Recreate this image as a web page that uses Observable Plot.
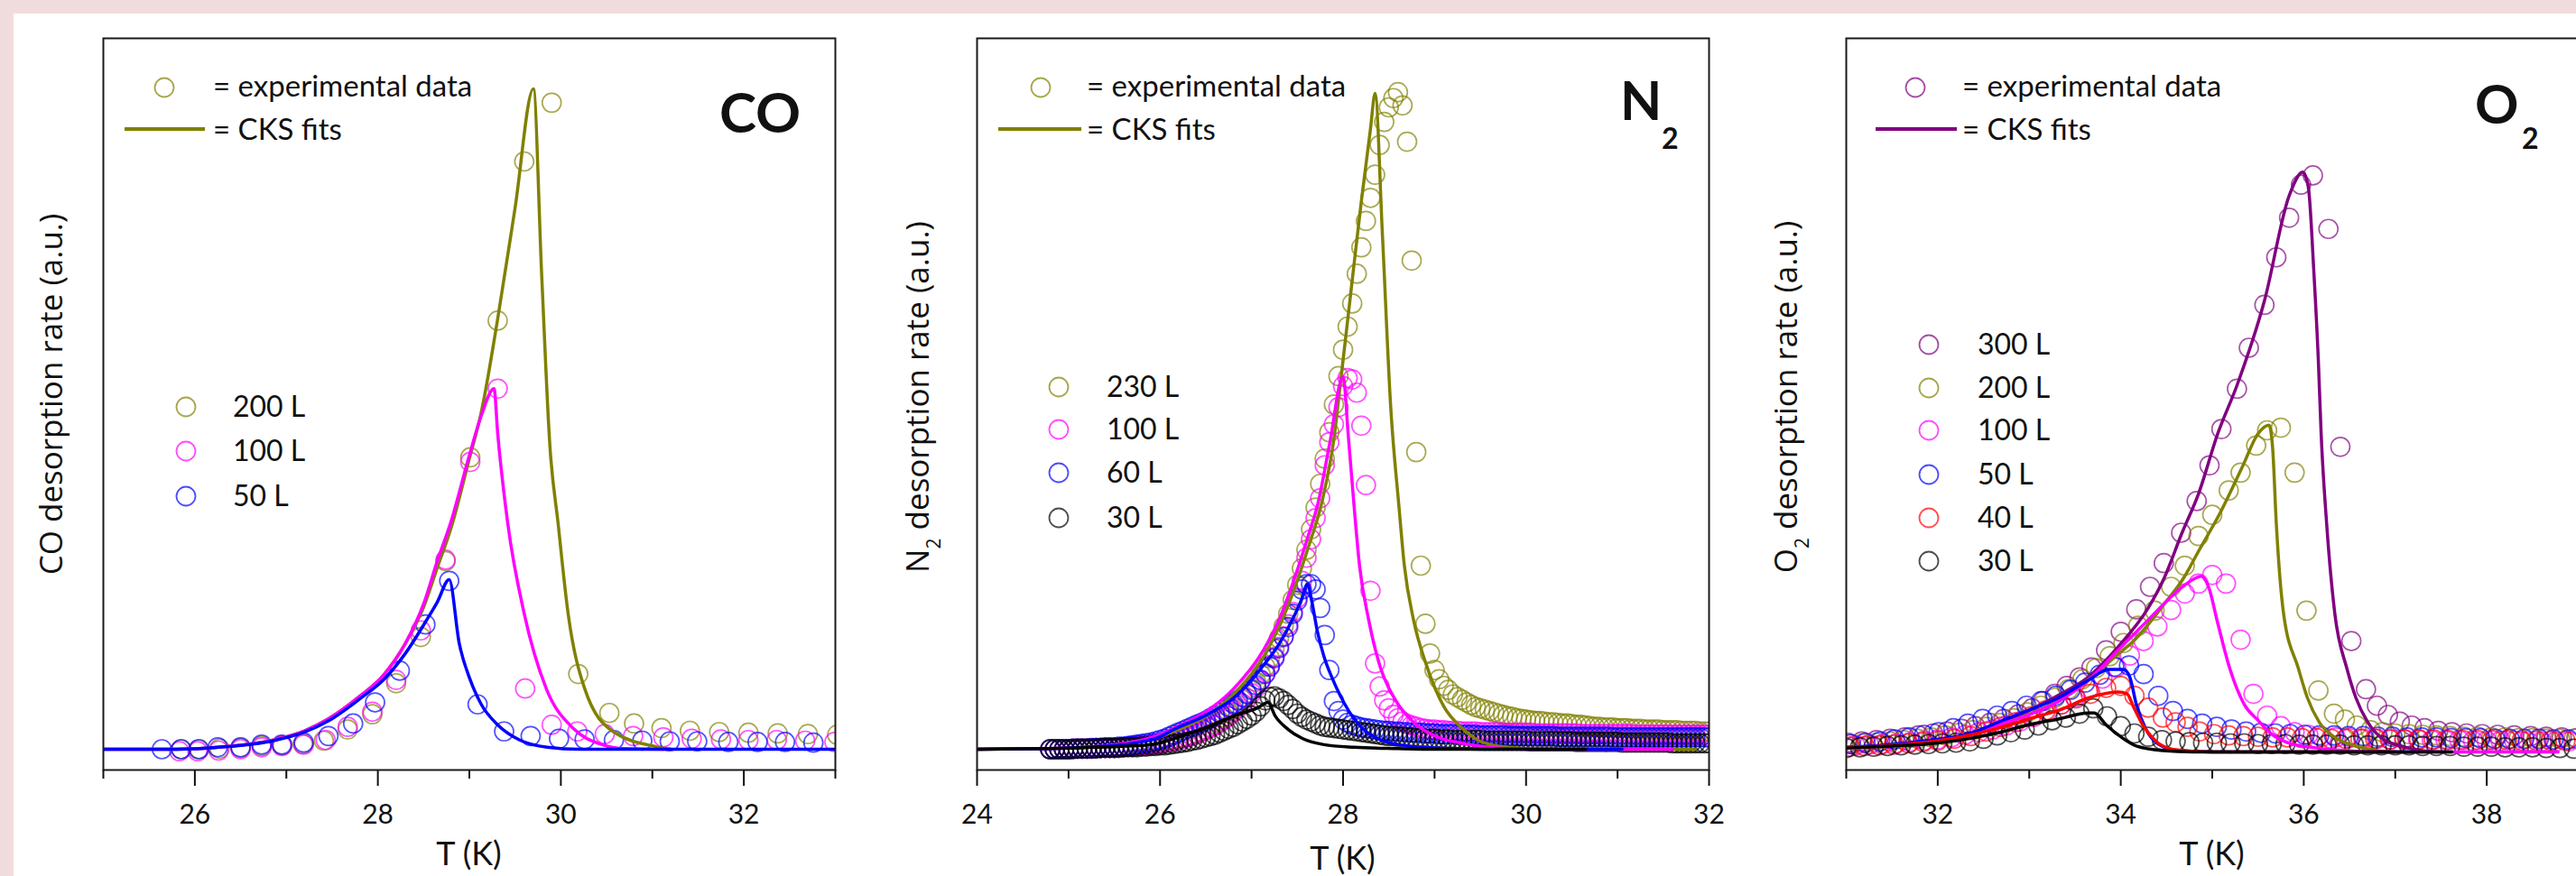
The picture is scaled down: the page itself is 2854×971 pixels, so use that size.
<!DOCTYPE html>
<html><head><meta charset="utf-8">
<script src="https://cdn.jsdelivr.net/npm/d3@7"></script>
<script src="https://cdn.jsdelivr.net/npm/@observablehq/plot@0.6"></script>
<style>
body{margin:0;background:#f0dcdc;}
#page{position:relative;width:2854px;height:971px;overflow:hidden;background:#f0dcdc;}
#white{position:absolute;left:15px;top:15px;width:2839px;height:956px;background:#fff;}
</style></head>
<body><div id="page"><div id="white"></div></div>
<script>
// ---------------- CO panel data ----------------
const co200c = [[25.85,0.000],[26.05,0.000],[26.27,0.001],[26.5,0.002],[26.73,0.005],[26.96,0.006],[27.18,0.008],[27.41,0.013],[27.67,0.030],[27.94,0.053],[28.2,0.100],[28.47,0.170],[28.74,0.285],[29.01,0.442],[29.31,0.649],[29.6,0.890],[29.9,0.979],[30.19,0.114],[30.53,0.055],[30.8,0.039],[31.1,0.032],[31.41,0.028],[31.73,0.026],[32.05,0.025],[32.37,0.024],[32.7,0.023],[33.02,0.022]];
const co100c = [[25.83,-0.003],[26.03,-0.003],[26.26,-0.002],[26.5,0.0],[26.73,0.003],[26.95,0.005],[27.19,0.007],[27.43,0.014],[27.67,0.034],[27.94,0.057],[28.2,0.105],[28.47,0.180],[28.74,0.287],[29.01,0.435],[29.31,0.546],[29.61,0.092],[29.9,0.037],[30.18,0.027],[30.48,0.023],[30.79,0.020],[31.12,0.018],[31.43,0.016],[31.75,0.015],[32.05,0.014],[32.36,0.014],[32.67,0.013],[32.99,0.011]];
const co50c = [[25.64,0.000],[25.85,0.000],[26.04,0.000],[26.25,0.003],[26.50,0.003],[26.73,0.007],[26.95,0.007],[27.19,0.010],[27.46,0.020],[27.73,0.039],[27.97,0.071],[28.24,0.119],[28.52,0.189],[28.78,0.255],[29.09,0.068],[29.38,0.027],[29.67,0.020],[29.98,0.016],[30.26,0.015],[30.58,0.014],[30.89,0.013],[31.19,0.012],[31.49,0.012],[31.83,0.011],[32.15,0.011],[32.45,0.011],[32.76,0.010]];
const co200l = [[25.0,0],[25.8,0.0],[26.26,0.003],[26.86,0.014],[27.2,0.028],[27.46,0.046],[27.8,0.08],[28.06,0.112],[28.3,0.16],[28.5,0.215],[28.65,0.275],[28.8,0.335],[29.0,0.44],[29.13,0.51],[29.31,0.652],[29.5,0.82],[29.7,1.0],[29.79,0.72],[29.88,0.46],[29.97,0.342],[30.08,0.205],[30.26,0.092],[30.57,0.027],[31.04,0.004],[31.2,0]];
const co100l = [[25.0,0],[25.8,0.0],[26.26,0.003],[26.86,0.014],[27.2,0.028],[27.46,0.046],[27.8,0.08],[28.06,0.112],[28.3,0.16],[28.5,0.22],[28.65,0.285],[28.8,0.345],[29.0,0.445],[29.13,0.505],[29.27,0.546],[29.31,0.478],[29.42,0.342],[29.6,0.205],[29.84,0.092],[30.14,0.031],[30.45,0.007],[30.7,0.001],[31.2,0]];
const co50l = [[25.0,0],[25.8,0.0],[26.26,0.003],[26.86,0.013],[27.2,0.026],[27.46,0.043],[27.8,0.076],[28.06,0.105],[28.3,0.145],[28.53,0.195],[28.65,0.223],[28.78,0.257],[28.89,0.16],[29.01,0.105],[29.13,0.068],[29.31,0.037],[29.55,0.014],[29.85,0.003],[30.2,0],[33.0,0]];

// ---------------- N2 panel data ----------------
const n2T = [
24.80,24.85,24.90,24.95,25.00,25.05,25.10,25.15,25.20,25.25,
25.30,25.35,25.40,25.45,25.50,25.55,25.60,25.65,25.70,25.75,
25.80,25.85,25.90,25.95,26.00,26.05,26.10,26.15,26.20,26.25,
26.30,26.35,26.40,26.45,26.50,26.55,26.60,26.65,26.70,26.75,
26.80,26.85,26.90,26.95,27.00,27.05,27.10,27.15,27.20,27.25,
27.30,27.35,27.40,27.45,27.50,27.55,27.60,27.65,27.70,27.75,
27.80,27.85,27.90,27.95,28.00,28.05,28.10,28.15,28.20,28.25,
28.30,28.35,28.40,28.45,28.50,28.55,28.60,28.65,28.70,28.75,
28.80,28.85,28.90,28.95,29.00,29.05,29.10,29.15,29.20,29.25,
29.30,29.35,29.40,29.45,29.50,29.55,29.60,29.65,29.70,29.75,
29.80,29.85,29.90,29.95,30.00,30.05,30.10,30.15,30.20,30.25,
30.30,30.35,30.40,30.45,30.50,30.55,30.60,30.65,30.70,30.75,
30.80,30.85,30.90,30.95,31.00,31.05,31.10,31.15,31.20,31.25,
31.30,31.35,31.40,31.45,31.50,31.55,31.60,31.65,31.70,31.75,
31.80,31.85,31.90,31.95,32.00];
const n2_230 = [
0,0,0,0,0,.001,.001,.001,.001,.001,
.002,.002,.002,.002,.002,.003,.003,.004,.004,.005,
.005,.006,.007,.008,.009,.010,.011,.013,.015,.017,
.019,.021,.024,.027,.030,.034,.038,.043,.048,.054,
.060,.067,.075,.083,.092,.102,.113,.125,.138,.152,
.168,.186,.205,.226,.249,.274,.302,.333,.366,.402,
.440,.480,.522,.565,.605,.640,.675,.720,.760,.800,
.835,.870,.915,.950,.972,.986,.995,.975,.920,.740,
.450,.278,.190,.145,.120,.106,.096,.090,.083,.079,
.075,.071,.067,.064,.062,.060,.058,.056,.054,.052,
.050,.049,.047,.046,.045,.044,.043,.043,.042,.041,
.041,.040,.039,.039,.038,.037,.037,.036,.035,.034,
.034,.033,.033,.033,.032,.032,.032,.031,.031,.031,
.030,.030,.030,.030,.029,.029,.029,.029,.028,.028,
.028,.028,.027,.027,.027];
const n2_100 = [
0,0,0,0,0,.001,.001,.001,.001,.001,
.002,.002,.002,.002,.002,.003,.003,.004,.004,.005,
.005,.006,.007,.008,.009,.010,.011,.012,.014,.016,
.018,.020,.023,.026,.029,.032,.036,.040,.045,.050,
.056,.062,.069,.077,.085,.094,.104,.115,.127,.140,
.155,.171,.189,.208,.229,.255,.290,.318,.350,.380,
.430,.465,.492,.518,.550,.562,.560,.540,.490,.400,
.240,.130,.095,.074,.062,.052,.047,.042,.038,.036,
.034,.032,.031,.030,.030,.029,.029,.028,.028,.028,
.027,.027,.027,.027,.026,.026,.026,.026,.026,.025,
.025,.025,.025,.025,.025,.025,.024,.024,.024,.024,
.024,.024,.024,.024,.024,.024,.023,.023,.023,.023,
.023,.023,.023,.023,.023,.023,.023,.023,.022,.022,
.022,.022,.022,.022,.022,.022,.022,.022,.022,.022,
.022,.022,.022,.022,.022];
const n2_60 = [
0,0,0,0,0,.001,.001,.001,.001,.002,
.002,.002,.003,.003,.003,.004,.004,.005,.006,.007,
.008,.009,.010,.012,.014,.016,.019,.022,.025,.028,
.031,.034,.037,.040,.043,.047,.051,.055,.059,.064,
.069,.074,.079,.084,.090,.097,.105,.114,.125,.138,
.153,.170,.185,.205,.225,.242,.250,.250,.242,.214,
.173,.120,.073,.058,.045,.040,.037,.035,.033,.032,
.031,.030,.029,.028,.028,.027,.027,.026,.026,.025,
.025,.025,.024,.024,.024,.023,.023,.023,.023,.022,
.022,.022,.022,.022,.021,.021,.021,.021,.021,.021,
.020,.020,.020,.020,.020,.020,.020,.020,.020,.020,
.020,.019,.019,.019,.019,.019,.019,.019,.019,.019,
.019,.019,.019,.018,.018,.018,.018,.018,.018,.018,
.018,.018,.018,.018,.018,.018,.018,.018,.018,.018,
.018,.018,.018,.018,.018];
const n2_30 = [
0,0,0,0,0,0,.001,.001,.001,.001,
.001,.002,.002,.002,.002,.002,.003,.003,.003,.003,
.004,.004,.005,.005,.006,.006,.007,.008,.009,.010,
.011,.013,.014,.016,.018,.020,.022,.025,.028,.031,
.034,.038,.042,.046,.051,.057,.065,.074,.079,.080,
.077,.073,.067,.061,.054,.049,.045,.042,.039,.036,
.034,.033,.032,.031,.030,.029,.028,.027,.026,.025,
.024,.023,.022,.021,.020,.020,.019,.019,.018,.018,
.017,.017,.016,.016,.016,.015,.015,.015,.014,.014,
.014,.014,.014,.014,.014,.013,.013,.013,.013,.013,
.013,.013,.013,.013,.013,.012,.012,.012,.012,.012,
.012,.012,.012,.012,.012,.011,.011,.011,.011,.011,
.011,.011,.011,.011,.011,.010,.010,.010,.010,.010,
.010,.010,.010,.010,.010,.010,.009,.009,.009,.009,
.009,.009,.009,.009,.009];
const n2_230l = [[24.0,0],[24.8,0.001],[25.3,0.004],[25.7,0.01],[26.0,0.019],[26.15,0.027],[26.48,0.048],[26.8,0.083],[27.13,0.14],[27.3,0.185],[27.46,0.24],[27.63,0.31],[27.77,0.375],[27.9,0.47],[27.98,0.565],[28.1,0.71],[28.2,0.83],[28.3,0.94],[28.35,0.993],[28.43,0.78],[28.52,0.52],[28.61,0.369],[28.67,0.278],[28.77,0.196],[28.9,0.132],[29.1,0.065],[29.3,0.032],[29.5,0.012],[29.8,0.003],[30.2,0],[31.85,0]];
const n2_100l = [[24.0,0],[24.8,0.001],[25.3,0.004],[25.7,0.011],[26.0,0.022],[26.15,0.032],[26.48,0.055],[26.8,0.091],[27.13,0.15],[27.3,0.196],[27.46,0.255],[27.63,0.328],[27.72,0.369],[27.85,0.46],[28.0,0.564],[28.06,0.47],[28.12,0.369],[28.18,0.278],[28.28,0.196],[28.41,0.123],[28.58,0.073],[28.77,0.041],[29.04,0.018],[29.27,0.01],[29.6,0.003],[30.0,0],[31.6,0]];
const n2_60l = [[24.0,0],[24.8,0.001],[25.3,0.004],[25.7,0.009],[26.0,0.019],[26.15,0.03],[26.48,0.05],[26.8,0.077],[26.97,0.1],[27.13,0.127],[27.3,0.159],[27.46,0.2],[27.55,0.228],[27.61,0.25],[27.66,0.223],[27.72,0.178],[27.79,0.141],[27.89,0.105],[28.02,0.068],[28.18,0.036],[28.38,0.016],[28.61,0.007],[29.0,0.002],[29.5,0],[31.05,0]];
const n2_30l = [[24.0,0],[24.8,0.001],[25.3,0.003],[25.7,0.005],[25.95,0.008],[26.15,0.016],[26.48,0.032],[26.8,0.05],[27.07,0.063],[27.18,0.071],[27.26,0.05],[27.4,0.03],[27.56,0.016],[27.79,0.007],[28.12,0.003],[28.6,0.001],[29.0,0],[30.65,0]];

// ---------------- O2 panel data ----------------
const o300c = [[31.02,0.014],[31.17,0.016],[31.33,0.018],[31.48,0.02],[31.64,0.022],[31.79,0.025],[31.95,0.028],[32.1,0.031],[32.26,0.035],[32.41,0.039],[32.57,0.044],[32.72,0.05],[32.88,0.057],[33.03,0.066],[33.15,0.077],[33.28,0.088],[33.41,0.1],[33.55,0.113],[33.68,0.128],[33.84,0.154],[34.0,0.182],[34.17,0.216],[34.32,0.25],[34.47,0.286],[34.66,0.332],[34.83,0.38],[34.97,0.434],[35.1,0.489],[35.27,0.55],[35.4,0.612],[35.57,0.677],[35.7,0.749],[35.84,0.809],[35.97,0.859],[36.1,0.873],[36.27,0.792],[36.4,0.462],[36.52,0.168],[36.68,0.095],[36.8,0.07],[36.92,0.056],[37.05,0.046],[37.18,0.04],[37.32,0.036],[37.47,0.032],[37.62,0.03],[37.78,0.028],[37.95,0.027],[38.12,0.026],[38.3,0.025],[38.48,0.024],[38.65,0.023],[38.82,0.022],[38.98,0.021]];
const o200c = [[31.03,0.012],[31.18,0.013],[31.33,0.014],[31.48,0.016],[31.63,0.018],[31.78,0.02],[31.93,0.022],[32.08,0.025],[32.23,0.029],[32.38,0.033],[32.53,0.038],[32.68,0.044],[32.83,0.051],[32.98,0.06],[33.13,0.07],[33.28,0.082],[33.43,0.095],[33.58,0.11],[33.73,0.127],[33.88,0.145],[34.03,0.165],[34.19,0.191],[34.37,0.214],[34.55,0.25],[34.7,0.282],[34.85,0.327],[35.0,0.359],[35.18,0.396],[35.31,0.423],[35.48,0.464],[35.6,0.487],[35.75,0.491],[35.9,0.423],[36.03,0.214],[36.16,0.093],[36.33,0.058],[36.45,0.049],[36.58,0.04],[36.73,0.033],[36.86,0.03],[37.0,0.028],[37.15,0.027],[37.3,0.026],[37.45,0.025],[37.6,0.024],[37.75,0.023],[37.9,0.023],[38.05,0.022],[38.2,0.022],[38.35,0.021],[38.5,0.021],[38.65,0.02],[38.8,0.02],[38.95,0.02]];
const o100c = [[31.1,0.01],[31.25,0.011],[31.4,0.012],[31.55,0.013],[31.7,0.015],[31.85,0.017],[32.0,0.019],[32.15,0.022],[32.3,0.026],[32.45,0.03],[32.6,0.034],[32.75,0.04],[32.9,0.046],[33.05,0.053],[33.2,0.062],[33.35,0.072],[33.5,0.083],[33.65,0.096],[33.8,0.111],[33.95,0.128],[34.1,0.146],[34.25,0.168],[34.4,0.19],[34.55,0.215],[34.7,0.24],[34.85,0.255],[35.0,0.268],[35.15,0.255],[35.31,0.17],[35.45,0.088],[35.6,0.055],[35.75,0.039],[35.9,0.03],[36.05,0.026],[36.2,0.023],[36.35,0.022],[36.5,0.021],[36.65,0.02],[36.8,0.02],[36.95,0.019],[37.1,0.019],[37.25,0.019],[37.4,0.018],[37.55,0.018],[37.7,0.018],[37.85,0.017],[38.0,0.017],[38.15,0.017],[38.3,0.017],[38.45,0.016],[38.6,0.016],[38.75,0.016],[38.9,0.016]];
const o50c = [[31.05,0.012],[31.21,0.014],[31.37,0.016],[31.53,0.019],[31.69,0.022],[31.85,0.026],[32.01,0.03],[32.17,0.036],[32.33,0.043],[32.49,0.05],[32.65,0.055],[32.81,0.062],[32.97,0.07],[33.13,0.077],[33.29,0.085],[33.45,0.094],[33.61,0.105],[33.77,0.117],[33.93,0.129],[34.09,0.131],[34.25,0.118],[34.41,0.085],[34.57,0.062],[34.73,0.05],[34.89,0.043],[35.05,0.038],[35.21,0.034],[35.37,0.031],[35.53,0.029],[35.69,0.028],[35.85,0.027],[36.01,0.026],[36.17,0.025],[36.33,0.025],[36.49,0.024],[36.65,0.024],[36.81,0.023],[36.97,0.023],[37.13,0.022],[37.29,0.022],[37.45,0.022],[37.61,0.021],[37.77,0.021],[37.93,0.021],[38.09,0.02],[38.25,0.02],[38.41,0.02],[38.57,0.02],[38.73,0.019],[38.89,0.019]];
const o40c = [[31.04,0.008],[31.2,0.009],[31.36,0.01],[31.52,0.011],[31.68,0.013],[31.84,0.015],[32.0,0.017],[32.18,0.02],[32.36,0.024],[32.53,0.031],[32.69,0.038],[32.85,0.045],[33.02,0.054],[33.18,0.063],[33.35,0.072],[33.51,0.081],[33.67,0.088],[33.84,0.097],[34.0,0.1],[34.15,0.085],[34.3,0.067],[34.46,0.052],[34.6,0.045],[34.73,0.038],[34.86,0.031],[35.02,0.027],[35.18,0.025],[35.34,0.024],[35.5,0.023],[35.66,0.022],[35.82,0.022],[35.98,0.021],[36.14,0.021],[36.3,0.02],[36.46,0.02],[36.62,0.02],[36.78,0.02],[36.94,0.019],[37.1,0.019],[37.26,0.019],[37.42,0.019],[37.58,0.018],[37.74,0.018],[37.9,0.018],[38.06,0.018],[38.22,0.018],[38.38,0.017],[38.54,0.017],[38.7,0.017],[38.86,0.017]];
const o30c = [[31.0,0.006],[31.15,0.007],[31.3,0.008],[31.45,0.009],[31.6,0.01],[31.75,0.011],[31.9,0.012],[32.05,0.013],[32.2,0.014],[32.35,0.016],[32.5,0.02],[32.65,0.025],[32.8,0.03],[32.95,0.034],[33.1,0.04],[33.25,0.048],[33.4,0.052],[33.55,0.058],[33.7,0.066],[33.85,0.054],[34.0,0.039],[34.15,0.028],[34.3,0.023],[34.45,0.018],[34.6,0.016],[34.75,0.015],[34.9,0.014],[35.05,0.014],[35.2,0.013],[35.35,0.013],[35.5,0.012],[35.65,0.012],[35.8,0.012],[35.95,0.011],[36.1,0.011],[36.25,0.011],[36.4,0.011],[36.55,0.01],[36.7,0.01],[36.85,0.01],[37.0,0.01],[37.15,0.01],[37.3,0.009],[37.45,0.009],[37.6,0.009],[37.75,0.008],[37.9,0.008],[38.05,0.008],[38.2,0.007],[38.35,0.007],[38.5,0.007],[38.65,0.006],[38.8,0.006],[38.95,0.005]];
const o300l = [[31.0,0.007],[31.5,0.01],[32.0,0.016],[32.33,0.027],[32.66,0.043],[32.99,0.062],[33.32,0.086],[33.64,0.113],[33.97,0.159],[34.3,0.218],[34.47,0.262],[34.67,0.332],[34.85,0.391],[35.06,0.482],[35.27,0.555],[35.57,0.683],[35.84,0.842],[35.99,0.878],[36.05,0.855],[36.11,0.728],[36.16,0.591],[36.19,0.482],[36.25,0.346],[36.34,0.209],[36.47,0.127],[36.57,0.082],[36.7,0.045],[36.86,0.02],[37.06,0.009],[37.29,0.002],[37.5,0]];
const o200l = [[31.0,0.006],[31.5,0.009],[32.0,0.015],[32.33,0.025],[32.66,0.04],[32.99,0.057],[33.32,0.078],[33.65,0.11],[33.97,0.148],[34.14,0.168],[34.47,0.223],[34.69,0.264],[34.85,0.304],[35.09,0.363],[35.33,0.432],[35.5,0.482],[35.62,0.495],[35.66,0.46],[35.7,0.346],[35.78,0.209],[35.94,0.127],[36.04,0.082],[36.17,0.045],[36.34,0.022],[36.57,0.009],[36.8,0.002],[37.0,0]];
const o100l = [[31.0,0.006],[31.5,0.01],[32.0,0.016],[32.33,0.025],[32.66,0.041],[32.99,0.056],[33.32,0.077],[33.65,0.109],[33.97,0.154],[34.3,0.2],[34.63,0.245],[34.8,0.262],[34.88,0.266],[34.96,0.25],[35.06,0.195],[35.19,0.127],[35.35,0.072],[35.5,0.048],[35.65,0.027],[35.81,0.015],[36.14,0.006],[36.47,0.002],[36.8,0],[38.78,0]];
const o50l = [[31.0,0.007],[31.37,0.01],[31.97,0.019],[32.33,0.027],[32.66,0.045],[32.99,0.063],[33.32,0.082],[33.65,0.109],[33.87,0.125],[34.03,0.125],[34.1,0.113],[34.17,0.072],[34.27,0.036],[34.4,0.013],[34.63,0.002],[35.0,0],[37.2,0]];
const o40l = [[31.0,0.007],[31.5,0.01],[32.0,0.017],[32.33,0.025],[32.66,0.036],[32.99,0.05],[33.32,0.063],[33.65,0.082],[33.81,0.088],[33.97,0.091],[34.07,0.088],[34.14,0.068],[34.24,0.041],[34.37,0.018],[34.56,0.004],[34.79,0.001],[35.0,0],[37.0,0]];
const o30l = [[31.0,0.006],[31.5,0.009],[31.97,0.013],[32.33,0.02],[32.66,0.029],[32.99,0.041],[33.32,0.05],[33.65,0.059],[33.71,0.059],[33.84,0.041],[34.0,0.023],[34.17,0.009],[34.46,0.002],[34.79,0],[37.62,0]];

// ---------------- labels & colours ----------------
const OLIVE = "#808000", MAG = "#ff00ff", BLUE = "#0000ff", BLACK = "#000000", RED = "#ff0000", PURPLE = "#800080";
const coSeries = ["200 L","100 L","50 L"];
const n2Series = ["230 L","100 L","60 L","30 L"];
const o2Series = ["300 L","200 L","100 L","50 L","40 L","30 L"];

const pairs = a => a.map(([T, v]) => ({T, v}));
const zip = (T, v) => T.slice(0, Math.min(T.length, v.length)).map((t, i) => ({T: t, v: v[i]}));

const ML = 110, MR = 12, MT = 42, MB = 118, FW = 811, H = 971;
const R = 10.5;
const page = document.getElementById("page");

function panel(cfg) {
  const marks = [];
  for (const s of cfg.dots) marks.push(Plot.dot(s.data, {x: "T", y: "v", r: R, stroke: s.color, strokeOpacity: 0.68, strokeWidth: 1.7, fill: "none", clip: true}));
  for (const s of cfg.lines) marks.push(Plot.line(s.data, {x: "T", y: "v", stroke: s.color, strokeWidth: 3.5, curve: "monotone-x", clip: true}));
  marks.push(Plot.axisX({ticks: cfg.majors, tickSize: 18, tickPadding: 20, tickFormat: d => String(d), strokeWidth: 2, fontSize: 30, fontFamily: "Lato, sans-serif", label: null}));
  marks.push(Plot.axisX({ticks: cfg.minors, tickSize: 10, tickFormat: () => "", strokeWidth: 2, label: null}));
  marks.push(Plot.frame({stroke: "#1a1a1a", strokeWidth: 2}));
  const svg = Plot.plot({
    width: ML + FW + MR, height: H,
    marginLeft: ML, marginRight: MR, marginTop: MT, marginBottom: MB,
    x: {domain: cfg.xDomain},
    y: {domain: cfg.yDomain, axis: null},
    style: {background: "transparent", color: "#111", fontFamily: "Lato, sans-serif", fontSize: "30px", overflow: "visible"},
    marks
  });
  const ox = cfg.frameLeft - ML;
  svg.style.position = "absolute";
  svg.style.left = ox + "px";
  svg.style.top = "0px";
  svg.style.maxWidth = "none";
  const g = d3.select(svg).append("g");
  const text = (x, y, s, o = {}) => g.append("text").attr("x", x - ox).attr("y", y).text(s)
    .attr("font-family", o.family || "Lato, sans-serif").attr("font-size", o.size || 33)
    .attr("font-weight", o.weight || "normal").attr("fill", "#111").attr("text-anchor", o.anchor || "start");
  const circ = (x, y, c) => g.append("circle").attr("cx", x - ox).attr("cy", y).attr("r", 10.5)
    .attr("fill", "none").attr("stroke", c).attr("stroke-opacity", 0.7).attr("stroke-width", 1.8);
  // top legend
  const L = cfg.legend;
  circ(L.cx, 97, L.color);
  text(L.tx, 107, "= experimental data");
  g.append("line").attr("x1", L.l1 - ox).attr("x2", L.l2 - ox).attr("y1", 143).attr("y2", 143)
    .attr("stroke", L.color).attr("stroke-width", 4);
  text(L.tx, 155, "= CKS fits");
  // title
  text(cfg.title.x, cfg.title.y, cfg.title.main, {size: cfg.title.size, weight: "bold"});
  if (cfg.title.sub) text(cfg.title.sx, 165, cfg.title.sub, {size: 32, weight: "bold"});
  // series legend
  cfg.series.forEach((name, i) => {
    const y = cfg.rows[i];
    circ(cfg.sx, y, cfg.seriesColors[i]);
    text(cfg.stx, y + 11, name, {size: 32});
  });
  // y label
  const yl = g.append("text").attr("transform", `translate(${cfg.ylab.x - ox},${cfg.ylab.y}) rotate(-90)`)
    .attr("text-anchor", "middle").attr("dy", "0.27em").attr("font-family", "'Open Sans', sans-serif")
    .attr("font-size", 35).attr("fill", "#111");
  yl.append("tspan").text(cfg.ylab.a);
  if (cfg.ylab.sub) {
    yl.append("tspan").attr("dy", 13).attr("font-size", 21).text(cfg.ylab.sub);
    yl.append("tspan").attr("dy", -13).text(cfg.ylab.b);
  }
  // x label
  text(cfg.frameLeft + FW / 2, cfg.xlabY, "T (K)", {size: 36, anchor: "middle"});
  page.appendChild(svg);
}

panel({
  frameLeft: 114, xDomain: [25, 33], yDomain: [-0.0314, 1.0765],
  majors: [26, 28, 30, 32], minors: [25, 27, 29, 31, 33],
  dots: [{data: pairs(co200c), color: OLIVE}, {data: pairs(co100c), color: MAG}, {data: pairs(co50c), color: BLUE}],
  lines: [{data: pairs(co200l), color: OLIVE}, {data: pairs(co100l), color: MAG}, {data: pairs(co50l), color: BLUE}],
  legend: {cx: 182, tx: 236, l1: 138, l2: 227, color: OLIVE},
  title: {main: "CO", x: 797, y: 147, size: 62},
  series: coSeries, seriesColors: [OLIVE, MAG, BLUE], rows: [451, 500, 550], sx: 206, stx: 258,
  ylab: {x: 60, y: 437, a: "CO desorption rate (a.u.)"},
  xlabY: 959
});

panel({
  frameLeft: 1082, xDomain: [24, 32], yDomain: [-0.0314, 1.0765],
  majors: [24, 26, 28, 30, 32], minors: [25, 27, 29, 31],
  dots: [{data: zip(n2T, n2_230), color: OLIVE}, {data: zip(n2T, n2_100), color: MAG}, {data: zip(n2T, n2_60), color: BLUE}, {data: zip(n2T, n2_30), color: BLACK}],
  lines: [{data: pairs(n2_230l), color: OLIVE}, {data: pairs(n2_100l), color: MAG}, {data: pairs(n2_60l), color: BLUE}, {data: pairs(n2_30l), color: BLACK}],
  legend: {cx: 1153, tx: 1204, l1: 1106, l2: 1198, color: OLIVE},
  title: {main: "N", x: 1795, y: 133, size: 60, sub: "2", sx: 1841},
  series: n2Series, seriesColors: [OLIVE, MAG, BLUE, BLACK], rows: [429, 476, 524, 574], sx: 1173, stx: 1226,
  ylab: {x: 1020, y: 440, a: "N", sub: "2", b: " desorption rate (a.u.)"},
  xlabY: 964
});

panel({
  frameLeft: 2045, xDomain: [31, 39], yDomain: [-0.0273, 1.0806],
  majors: [32, 34, 36, 38], minors: [31, 33, 35, 37, 39],
  dots: [{data: pairs(o300c), color: PURPLE}, {data: pairs(o200c), color: OLIVE}, {data: pairs(o100c), color: MAG}, {data: pairs(o50c), color: BLUE}, {data: pairs(o40c), color: RED}, {data: pairs(o30c), color: BLACK}],
  lines: [{data: pairs(o300l), color: PURPLE}, {data: pairs(o200l), color: OLIVE}, {data: pairs(o100l), color: MAG}, {data: pairs(o50l), color: BLUE}, {data: pairs(o40l), color: RED}, {data: pairs(o30l), color: BLACK}],
  legend: {cx: 2122, tx: 2174, l1: 2078, l2: 2168, color: PURPLE},
  title: {main: "O", x: 2742, y: 137, size: 60, sub: "2", sx: 2794},
  series: o2Series, seriesColors: [PURPLE, OLIVE, MAG, BLUE, RED, BLACK], rows: [382, 430, 477, 526, 574, 622], sx: 2137, stx: 2191,
  ylab: {x: 1982, y: 440, a: "O", sub: "2", b: " desorption rate (a.u.)"},
  xlabY: 959
});
</script></body></html>
